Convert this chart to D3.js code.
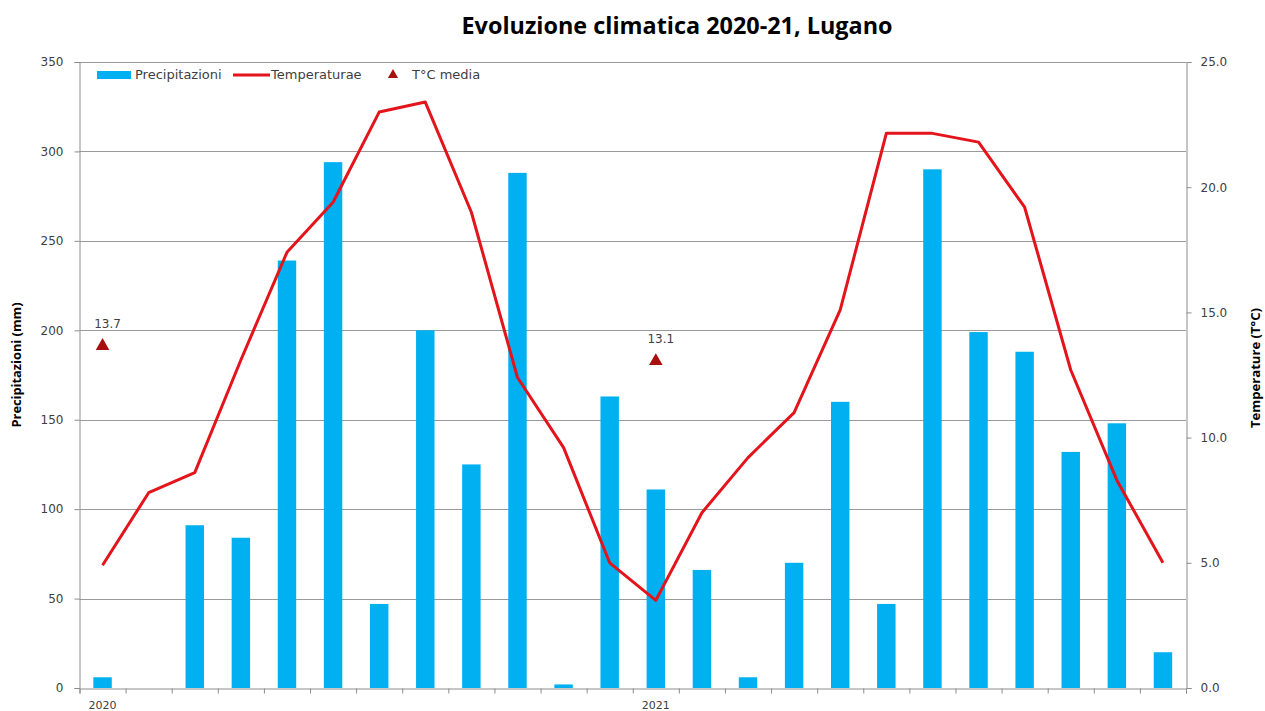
<!DOCTYPE html>
<html>
<head>
<meta charset="utf-8">
<title>Evoluzione climatica 2020-21, Lugano</title>
<script src="https://cdn.jsdelivr.net/npm/d3@7"></script>
<style>
  body { margin: 0; background: #ffffff; }
  svg { display: block; }
</style>
</head>
<body>
<svg id="chart" width="1265" height="711"></svg>
<script>
// Monthly series, Jan 2020 – Dec 2021
const months = [
  "2020-01","2020-02","2020-03","2020-04","2020-05","2020-06",
  "2020-07","2020-08","2020-09","2020-10","2020-11","2020-12",
  "2021-01","2021-02","2021-03","2021-04","2021-05","2021-06",
  "2021-07","2021-08","2021-09","2021-10","2021-11","2021-12"
];
const yearLabels = { "2020-01": "2020", "2021-01": "2021" };

// Precipitazioni (mm)
const precipitazioni = [6, 0, 91, 84, 239, 294, 47, 200, 125, 288, 2, 163,
                        111, 66, 6, 70, 160, 47, 290, 199, 188, 132, 148, 20];
// Temperatura media mensile (°C)
const temperature = [4.9, 7.8, 8.6, 13.1, 17.4, 19.4, 23.0, 23.4, 19.0, 12.4, 9.6, 5.0,
                     3.5, 7.0, 9.2, 11.0, 15.1, 22.15, 22.15, 21.8, 19.2, 12.7, 8.3, 5.0];
// Temperatura media annuale (°C)
const mediaMonths = ["2020-01", "2021-01"];
const mediaValues = [13.7, 13.1];

const precipTicks = [0, 50, 100, 150, 200, 250, 300, 350];
const tempTicks = [0, 5, 10, 15, 20, 25];

const svg = d3.select("#chart");
const plotLeft = 79.5, plotRight = 1186, plotTop = 62, plotBottom = 688;
const font = "'DejaVu Sans', Verdana, sans-serif";
const labelColor = "#404040";

const x = d3.scaleBand().domain(months).range([plotLeft, plotRight])
  .paddingInner(0.6).paddingOuter(0.3);
const cx = m => x(m) + x.bandwidth() / 2;

const yP = d3.scaleLinear().domain([0, 350]).range([plotBottom, plotTop]);
const yT = d3.scaleLinear().domain([0, 25]).range([plotBottom, plotTop]);

// Title
svg.append("text")
  .attr("x", 677).attr("y", 34)
  .attr("text-anchor", "middle")
  .attr("font-family", "'Open Sans', 'Noto Sans', sans-serif")
  .attr("font-weight", "bold").attr("font-size", 23)
  .attr("textLength", 431).attr("lengthAdjust", "spacingAndGlyphs")
  .attr("fill", "#000")
  .text("Evoluzione climatica 2020-21, Lugano");

// Horizontal gridlines
svg.append("g")
  .selectAll("line").data(precipTicks.filter(d => d > 0)).join("line")
  .attr("x1", plotLeft).attr("x2", plotRight)
  .attr("y1", d => Math.round(yP(d)) + 0.5).attr("y2", d => Math.round(yP(d)) + 0.5)
  .attr("stroke", "#9a9a9a").attr("stroke-width", 1);

// Bars
svg.append("g")
  .selectAll("rect").data(months).join("rect")
  .attr("x", d => x(d))
  .attr("width", x.bandwidth())
  .attr("y", (d, i) => yP(precipitazioni[i]))
  .attr("height", (d, i) => plotBottom - yP(precipitazioni[i]))
  .attr("fill", "#00b0f0");

// Temperature line
const line = d3.line()
  .x((d, i) => cx(months[i]))
  .y(d => yT(d));
svg.append("path")
  .datum(temperature)
  .attr("d", line)
  .attr("fill", "none")
  .attr("stroke", "#e3141b")
  .attr("stroke-width", 3)
  .attr("stroke-linejoin", "round");

// Annual mean markers
const tri = d3.symbol(d3.symbolTriangle, 80);
const media = svg.append("g");
media.selectAll("path").data(mediaValues).join("path")
  .attr("d", tri)
  .attr("transform", (d, i) => `translate(${cx(mediaMonths[i])},${yT(d) + 1})`)
  .attr("fill", "#a81010");
media.selectAll("text").data(mediaValues).join("text")
  .attr("x", (d, i) => cx(mediaMonths[i]) + 5)
  .attr("y", d => yT(d) - 17)
  .attr("text-anchor", "middle")
  .attr("font-family", font).attr("font-size", 12)
  .attr("fill", labelColor)
  .text(d => d.toFixed(1));

// Left axis
const axisL = svg.append("g")
  .attr("transform", `translate(${plotLeft},0)`)
  .call(d3.axisLeft(yP).tickValues(precipTicks).tickSize(5).tickPadding(11));
// Right axis
const axisR = svg.append("g")
  .attr("transform", `translate(${plotRight + 0.5},0)`)
  .call(d3.axisRight(yT).tickValues(tempTicks).tickFormat(d3.format(".1f")).tickSize(5).tickPadding(9));

// Bottom axis: ticks at month boundaries, year labels under January
const xb = d3.scaleLinear().domain([0, months.length]).range([plotLeft, plotRight]);
const axisB = svg.append("g")
  .attr("transform", `translate(0,${plotBottom + 0.5})`)
  .call(d3.axisBottom(xb).tickValues(d3.range(months.length + 1)).tickFormat("").tickSize(5));
svg.append("g")
  .selectAll("text").data(months.filter(m => yearLabels[m])).join("text")
  .attr("x", d => cx(d))
  .attr("y", 709)
  .attr("text-anchor", "middle")
  .attr("font-family", font).attr("font-size", 11)
  .attr("fill", labelColor)
  .text(d => yearLabels[d]);

[axisL, axisR, axisB].forEach(g => {
  g.select(".domain").attr("stroke", "#8c8c8c");
  g.selectAll(".tick line").attr("stroke", "#8c8c8c");
  g.selectAll(".tick text").attr("font-family", font).attr("font-size", 12).attr("fill", labelColor);
});

// Axis titles
svg.append("text")
  .attr("transform", "translate(21,365) rotate(-90)")
  .attr("text-anchor", "middle")
  .attr("font-family", "'Open Sans', sans-serif").attr("font-weight", "bold").attr("font-size", 12)
  .attr("textLength", 125).attr("lengthAdjust", "spacingAndGlyphs")
  .attr("fill", "#000")
  .text("Precipitazioni (mm)");
svg.append("text")
  .attr("transform", "translate(1260,368) rotate(-90)")
  .attr("text-anchor", "middle")
  .attr("font-family", "'Open Sans', sans-serif").attr("font-weight", "bold").attr("font-size", 12)
  .attr("textLength", 120).attr("lengthAdjust", "spacingAndGlyphs")
  .attr("fill", "#000")
  .text("Temperature (T°C)");

// Legend
const legend = svg.append("g").attr("font-family", font).attr("font-size", 13).attr("fill", labelColor);
legend.append("rect").attr("x", 97).attr("y", 71).attr("width", 34).attr("height", 8).attr("fill", "#00b0f0");
legend.append("text").attr("x", 135).attr("y", 79).text("Precipitazioni");
legend.append("line").attr("x1", 233).attr("x2", 270).attr("y1", 75).attr("y2", 75)
  .attr("stroke", "#e3141b").attr("stroke-width", 3);
legend.append("text").attr("x", 271).attr("y", 79).text("Temperaturae");
legend.append("path").attr("d", d3.symbol(d3.symbolTriangle, 45)).attr("transform", "translate(393,75)").attr("fill", "#a81010");
legend.append("text").attr("x", 412).attr("y", 79).text("T°C media");
</script>
</body>
</html>
